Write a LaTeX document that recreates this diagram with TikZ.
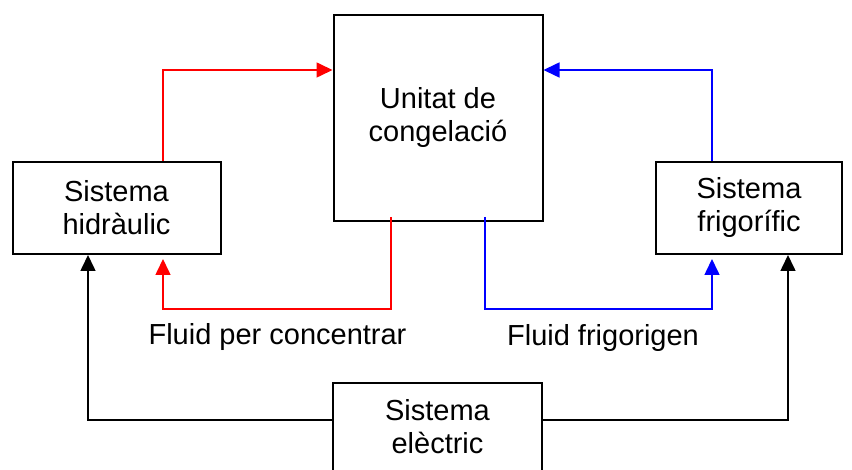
\documentclass[tikz,border=0pt]{standalone}
\usepackage{fontspec}
\setmainfont{Liberation Sans}
\usetikzlibrary{arrows.meta}
\definecolor{fred}{RGB}{255,0,0}
\definecolor{fblue}{RGB}{0,0,255}
\begin{document}
\begin{tikzpicture}[x=1pt,y=-1pt,
  box/.style={draw=black,line width=2pt,rectangle,inner sep=0pt,align=center,font=\fontsize{29}{33}\selectfont},
  conn/.style={line width=1.6pt,-{Triangle[length=16pt,width=15pt]}},
  lbl/.style={font=\fontsize{29}{33}\selectfont,inner sep=0pt,anchor=base}]
\useasboundingbox (0,0) rectangle (852,470);
\node[box,minimum width=208pt,minimum height=92pt] (hyd) at (116.5,208) {Sistema\\hidràulic};
\node[box,minimum width=186pt,minimum height=92pt] (fri) at (749,208) {Sistema\\frigorífic};
\node[box,minimum width=209pt,minimum height=206pt] (unit) at (438,118) {Unitat de\\congelació};
\node[box,minimum width=209pt,minimum height=88pt] (ele) at (437.5,427) {Sistema\\elèctric};
\coordinate (rs) at (391,217);
\coordinate (bs) at (485,217);
% upper loops
\draw[conn,fred] (hyd.north -| 163,0) |- (unit.west |- 0,70);
\draw[conn,fblue] (fri.north -| 712,0) |- (unit.east |- 0,70);
% lower loops
\draw[conn,fred,shorten >=4pt] (rs) -- (rs |- 0,309) -| (hyd.south -| 163,0);
\draw[conn,fblue,shorten >=4pt] (bs) -- (bs |- 0,309) -| (fri.south -| 712,0);
% electric
\draw[conn] (ele.west |- 0,420) -| (hyd.south -| 88,0);
\draw[conn] (ele.east |- 0,420) -| (fri.south -| 788,0);
% labels
\node[lbl] (lf) at (277.5,345) {Fluid per concentrar};
\node[lbl] (lg) at (603,346) {Fluid frigorigen};
\end{tikzpicture}
\end{document}
